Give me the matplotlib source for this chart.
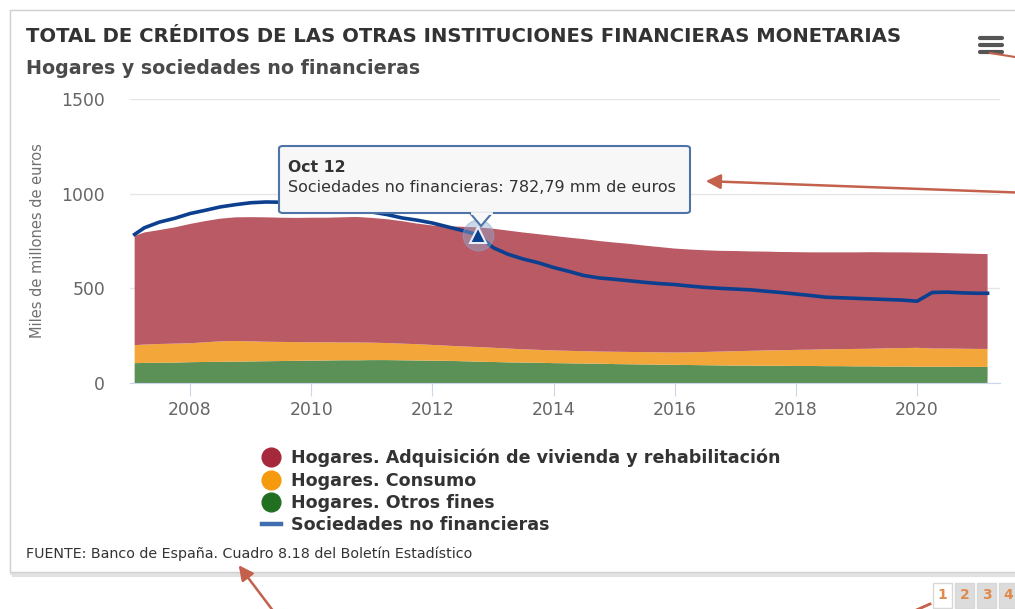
import matplotlib.pyplot as plt
import matplotlib.dates as mdates
import matplotlib.patches as mpatches
from matplotlib.lines import Line2D
import pandas as pd

plt.rcParams['font.family'] = ['DejaVu Sans']

# Datos trimestrales (miles de millones de euros)
fechas = ['2007-02', '2007-04', '2007-07', '2007-10',
          '2008-01', '2008-04', '2008-07', '2008-10',
          '2009-01', '2009-04', '2009-07', '2009-10',
          '2010-01', '2010-04', '2010-07', '2010-10',
          '2011-01', '2011-04', '2011-07', '2011-10',
          '2012-01', '2012-04', '2012-07', '2012-10',
          '2013-01', '2013-04', '2013-07', '2013-10',
          '2014-01', '2014-04', '2014-07', '2014-10',
          '2015-01', '2015-04', '2015-07', '2015-10',
          '2016-01', '2016-04', '2016-07', '2016-10',
          '2017-01', '2017-04', '2017-07', '2017-10',
          '2018-01', '2018-04', '2018-07', '2018-10',
          '2019-01', '2019-04', '2019-07', '2019-10',
          '2020-01', '2020-04', '2020-07', '2020-10',
          '2021-01', '2021-03']

otros_fines = [105, 106, 107, 108, 110, 111, 112, 113, 114, 115, 116, 117,
               118, 119, 120, 120, 121, 121, 120, 119, 118, 117, 115, 113,
               111, 109, 108, 107, 105, 104, 103, 102, 100, 99, 98, 97,
               96, 95, 94, 93, 92, 92, 91, 91, 90, 90, 89, 89,
               88, 88, 87, 87, 86, 86, 86, 85, 85, 85]

consumo = [95, 97, 99, 100, 100, 104, 108, 109, 106, 103, 101, 99,
           97, 96, 94, 94, 92, 90, 88, 86, 83, 80, 78, 77,
           75, 73, 70, 68, 67, 66, 65, 64, 65, 65, 65, 65,
           65, 67, 70, 73, 76, 78, 81, 82, 85, 86, 89, 90,
           92, 93, 96, 97, 100, 96, 96, 96, 95, 95]

vivienda = [577, 592, 602, 614, 630, 640, 648, 653, 656, 657, 656, 656,
            658, 658, 661, 663, 659, 654, 647, 637, 631, 631, 632, 632,
            629, 623, 617, 611, 605, 598, 592, 584, 577, 571, 563, 556,
            549, 543, 537, 532, 529, 525, 522, 519, 516, 514, 512, 511,
            510, 510, 507, 506, 503, 506, 504, 503, 502, 501]

sociedades = [785, 820, 850, 870, 895, 912, 930, 942, 952, 956, 955, 948,
              935, 925, 915, 908, 903, 890, 872, 860, 845, 825, 805, 782.79,
              715, 680, 655, 635, 610, 590, 568, 555, 548, 540, 532, 525,
              520, 512, 505, 500, 496, 492, 485, 478, 470, 462, 453, 450,
              447, 444, 441, 438, 432, 478, 480, 476, 474, 474]

x = pd.to_datetime(fechas)

W, H = 1015, 609


def fx(px):
    return px / W


def fy(py):
    return 1 - py / H


fig = plt.figure(figsize=(W / 100, H / 100), dpi=100)
fig.patch.set_facecolor('white')

# Marco del contenedor
fig.patches.append(mpatches.Rectangle((fx(12), fy(575)), fx(1020) - fx(12), fy(12) - fy(575),
                                      transform=fig.transFigure, facecolor='none',
                                      edgecolor='#e2e2e2', linewidth=3, zorder=-2))
fig.patches.append(mpatches.Rectangle((fx(10), fy(572)), fx(1020) - fx(10), fy(10) - fy(572),
                                      transform=fig.transFigure, facecolor='white',
                                      edgecolor='#d0d0d0', linewidth=1, zorder=-1))

ax = fig.add_axes([fx(130), fy(383), fx(1000) - fx(130), fy(99) - fy(383)])
ax.set_facecolor('none')

ax.stackplot(x, otros_fines, consumo, vivienda,
             colors=['#5b9157', '#f3a63a', '#b95a65'], linewidth=0)
ax.plot(x, sociedades, color='#0d3f8f', linewidth=2.6, zorder=5)

# Punto resaltado (Oct 12)
ax.plot(x[23], sociedades[23], 'o', markersize=22, color='#8fa8cc', alpha=0.45, zorder=6)
ax.plot(x[23], sociedades[23], '^', markersize=12, color='#0d3f8f',
        markeredgecolor='#e8eef8', markeredgewidth=1.5, zorder=7)

ax.set_xlim(pd.Timestamp('2007-01-04'), pd.Timestamp('2021-05-15'))
ax.set_ylim(0, 1500)
ax.set_yticks([0, 500, 1000, 1500])
ax.xaxis.set_major_locator(mdates.YearLocator(2))
ax.xaxis.set_major_formatter(mdates.DateFormatter('%Y'))

ax.grid(axis='y', color='#e6e6e6', linewidth=1)
ax.set_axisbelow(True)
for s in ['top', 'right', 'left']:
    ax.spines[s].set_visible(False)
ax.spines['bottom'].set_color('#ccd6eb')
ax.tick_params(axis='y', length=0, pad=18, labelsize=12.4, labelcolor='#666666')
ax.tick_params(axis='x', length=9, color='#ccd6eb', pad=4, labelsize=12.4, labelcolor='#666666')
ax.set_ylabel('Miles de millones de euros', fontsize=10.5, color='#707070', labelpad=12)

# Títulos
fig.text(fx(26), fy(36), 'TOTAL DE CRÉDITOS DE LAS OTRAS INSTITUCIONES FINANCIERAS MONETARIAS',
         fontsize=14.15, fontweight='bold', color='#333333', va='center')
fig.text(fx(26), fy(68), 'Hogares y sociedades no financieras',
         fontsize=13.7, fontweight='bold', color='#4a4a4a', va='center')

# Icono de menú
for yy in [38, 45, 52]:
    fig.add_artist(Line2D([fx(980), fx(1002)], [fy(yy), fy(yy)], transform=fig.transFigure,
                          color='#555555', linewidth=3, solid_capstyle='round'))

# Tooltip
fig.patches.append(mpatches.FancyBboxPatch((fx(279), fy(213)), fx(690) - fx(279), fy(146) - fy(213),
                                           boxstyle='round,pad=0,rounding_size=0.004',
                                           transform=fig.transFigure, facecolor='#f7f7f7',
                                           edgecolor='#4d74a8', linewidth=1.5, zorder=8))
fig.add_artist(mpatches.Polygon([(fx(470), fy(213)), (fx(481), fy(226)), (fx(492), fy(213))],
                                closed=False, transform=fig.transFigure, facecolor='#f7f7f7',
                                edgecolor='#4d74a8', linewidth=1.5, zorder=9))
fig.add_artist(Line2D([fx(471.5), fx(490.5)], [fy(213), fy(213)], transform=fig.transFigure,
                      color='#f7f7f7', linewidth=2, zorder=10))
fig.text(fx(288), fy(167), 'Oct 12', fontsize=11.3, fontweight='bold', color='#333333',
         va='center', zorder=11)
fig.text(fx(288), fy(187), 'Sociedades no financieras: 782,79 mm de euros', fontsize=11.5,
         color='#333333', va='center', zorder=11)

# Leyenda
handles = [Line2D([], [], marker='o', linestyle='none', markersize=13.5, color='#a6283b'),
           Line2D([], [], marker='o', linestyle='none', markersize=13.5, color='#f59a0d'),
           Line2D([], [], marker='o', linestyle='none', markersize=13.5, color='#217021'),
           Line2D([], [], color='#3f6fb0', linewidth=3.2)]
labels = ['Hogares. Adquisición de vivienda y rehabilitación', 'Hogares. Consumo',
          'Hogares. Otros fines', 'Sociedades no financieras']
leg = fig.legend(handles, labels, loc='upper left', bbox_to_anchor=(fx(253), fy(440)),
                 frameon=False, handlelength=1.1, handletextpad=0.55, labelspacing=0.25,
                 prop={'size': 12.6, 'weight': 'bold'}, borderpad=0)
for t in leg.get_texts():
    t.set_color('#333333')

fig.text(fx(26), fy(554), 'FUENTE: Banco de España. Cuadro 8.18 del Boletín Estadístico',
         fontsize=10.3, color='#333333', va='center')

# Paginación
pages = ['1', '2', '3', '4']
for i, p in enumerate(pages):
    x0 = 933 + i * 22
    fc = 'white' if i == 0 else '#dcdcdc'
    fig.patches.append(mpatches.Rectangle((fx(x0), fy(608)), fx(19), fy(583) - fy(608),
                                          transform=fig.transFigure, facecolor=fc,
                                          edgecolor='#d8d8d8', linewidth=1))
    fig.text(fx(x0 + 9.5), fy(595), p, fontsize=10, fontweight='bold', color='#e08a4c',
             ha='center', va='center')

# Flechas de anotación
arrow_color = '#c3614c'
for (x1, y1), (x2, y2) in [((1030, 193), (703, 181)), ((280, 620), (237, 563))]:
    fig.add_artist(mpatches.FancyArrowPatch((fx(x1), fy(y1)), (fx(x2), fy(y2)),
                                            transform=fig.transFigure, arrowstyle='-|>',
                                            mutation_scale=22, color=arrow_color, linewidth=1.8))
fig.add_artist(Line2D([fx(990), fx(1015)], [fy(53), fy(57)], transform=fig.transFigure,
                      color=arrow_color, linewidth=1.5))
fig.add_artist(Line2D([fx(905), fx(930)], [fy(615), fy(604)], transform=fig.transFigure,
                      color=arrow_color, linewidth=2))

fig.savefig('out.png', dpi=100)
